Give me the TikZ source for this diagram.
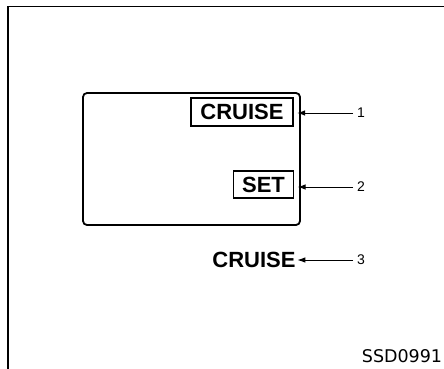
\documentclass[tikz,border=0pt]{standalone}
\usepackage{fontspec}
\setmainfont{Liberation Sans}
\newfontfamily\codefont{DejaVu Sans}
\usetikzlibrary{arrows.meta}
\begin{document}
\begin{tikzpicture}[x=1pt,y=-1pt,
  lamp/.style={font=\fontsize{22}{24}\selectfont\bfseries, inner sep=0pt},
  lampbox/.style={lamp, draw, line width=1.2pt},
  callout/.style={font=\fontsize{14}{16}\selectfont, inner sep=0pt, anchor=west},
  leader/.style={line width=1pt, -{Latex[length=8pt,width=5.5pt]}},
  frameline/.style={line width=1.8pt}]
\useasboundingbox (0,0) rectangle (444,369);
\draw[frameline] (444,6.5) -- (8,6.5) -- (8,369);
\node[draw, line width=1.8pt, rounded corners=4pt, minimum width=217pt, minimum height=132pt, inner sep=0pt] (panel) at (191.5,159) {};
\node[lampbox, minimum width=102pt, minimum height=28pt] (cruise1) at (242,112) {CRUISE};
\node[lampbox, minimum width=60pt, minimum height=27pt] (set) at (263.5,184.5) {SET};
\node[lamp] (cruise3) at (254,260) {CRUISE};
\node[callout] (n1) at (357,113) {1};
\node[callout] (n2) at (357,187) {2};
\node[callout] (n3) at (357,260) {3};
\draw[leader, shorten >=3.5pt] (n1.west) ++(-4pt,0) coordinate (c1) -- (cruise1.east |- c1);
\draw[leader, shorten >=3.5pt] (n2.west) ++(-4pt,0) coordinate (c2) -- (set.east |- c2);
\draw[leader, shorten >=1.5pt] (n3.west) ++(-4pt,0) coordinate (c3) -- (cruise3.east |- c3);
\node[font=\codefont\fontsize{17.5}{20}\selectfont, inner sep=0pt] (code) at (402,356.5) {SSD0991};
\end{tikzpicture}
\end{document}
